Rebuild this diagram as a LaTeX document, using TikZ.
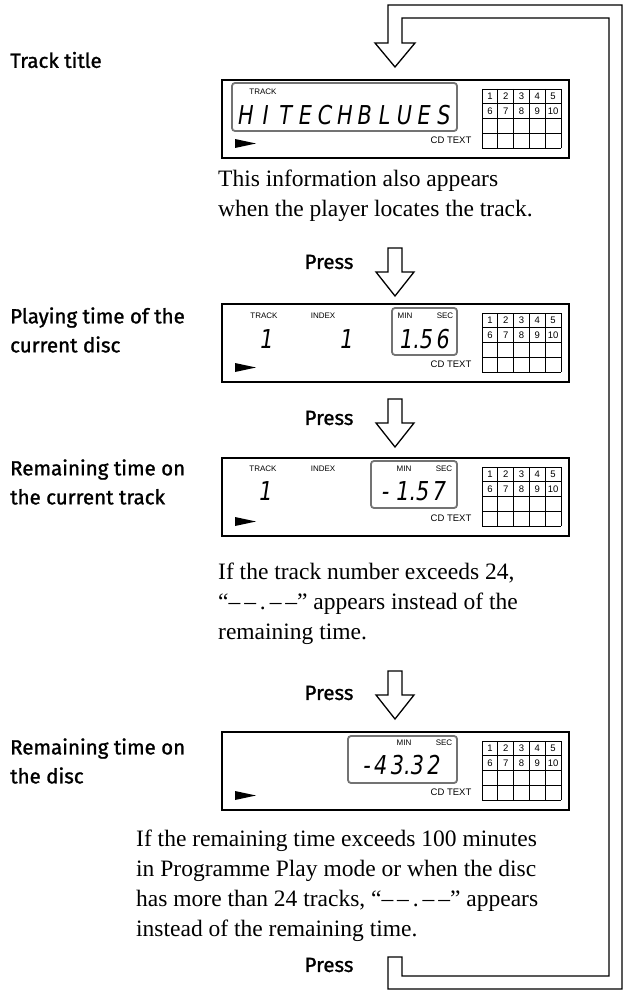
\documentclass[tikz,border=0pt]{standalone}
\usepackage{fontspec}
\setmainfont{Liberation Serif}
\setsansfont{Fira Sans}
\newfontfamily\lcdfont{Liberation Sans}
\newfontfamily\segfont{DejaVu Sans}
\newfontfamily\labfont{Fira Sans}[FakeBold=1.2]
\tikzset{
  frame/.style={draw=black,line width=1.6pt},
  gbox/.style={draw=black!55,line width=1.8pt,rounded corners=3pt},
  tiny/.style={font=\lcdfont\fontsize{8}{8}\selectfont,inner sep=0pt},
  cell/.style={font=\lcdfont\fontsize{9.5}{9.5}\selectfont,inner sep=0pt},
  seg/.style={font=\segfont\itshape\fontsize{26}{26}\selectfont,inner sep=0pt,xscale=0.8},
  lab/.style={font=\labfont\fontsize{20.5}{29}\selectfont,anchor=west,align=left,inner sep=0pt},
  press/.style={font=\labfont\fontsize{20.5}{24}\selectfont,inner sep=0pt},
  para/.style={font=\fontsize{23.5}{30}\selectfont,anchor=north west,align=left,inner sep=0pt},
  band/.style={draw=black,line width=1.3pt},
}
\newcommand\lcdpanel[2]{% top y, name
  \draw[frame] (222,#1) rectangle (569,#1+78);
  \node[name=#2] at (395.5,#1+39) {};
  \fill (235,#1+59) -- (256,#1+63.5) -- (235,#1+68) -- cycle;
  \node[tiny,font=\lcdfont\fontsize{9.5}{9.5}\selectfont] (#2cd) at (451,#1+60) {CD TEXT};
  \foreach \k in {0,...,5}{\draw[line width=0.7pt] (482+15.8*\k,#1+9) -- (482+15.8*\k,#1+68.2);}
  \foreach \k in {0,...,4}{\draw[line width=0.7pt] (482,#1+9+14.8*\k) -- (561,#1+9+14.8*\k);}
  \foreach \n [count=\i from 0] in {1,2,3,4,5}{
    \node[cell] at (489.9+15.8*\i,#1+16.4) {\n};}
  \foreach \n [count=\i from 0] in {6,7,8,9,10}{
    \node[cell] at (489.9+15.8*\i,#1+31.2) {\n};}
}
\newcommand\hollowdown[2]{% x, head y
  \draw[band,line join=miter] (#1-7,#2-24) -- (#1-7,#2) -- (#1-19,#2) -- (#1,#2+24) -- (#1+19,#2) -- (#1+7,#2) -- (#1+7,#2-24) -- cycle;
}
\begin{document}
\begin{tikzpicture}[x=1pt,y=-1pt]
\useasboundingbox (0,0) rectangle (623,992);
\fill[white] (0,0) rectangle (623,992);

% return loop
\draw[band,line join=miter] (402,957) -- (402,976) -- (609,976) -- (609,18) -- (402,18) -- (402,43) -- (415,43) -- (395,67) -- (375,43) -- (388,43) -- (388,5) -- (622,5) -- (622,989) -- (388,989) -- (388,957) -- cycle;
\coordinate (loopend) at (395,67);

% display 1
\lcdpanel{80}{d1}
\draw[gbox] (232,83) rectangle (457,131);
\node[tiny] at (263,92) {TRACK};
\foreach \c [count=\i from 0] in {H,I,T,E,C,H,B,L,U,E,S}{
  \node[seg] at (246+19.8*\i,115) {\c};}

% display 2
\lcdpanel{304}{d2}
\draw[gbox] (392,308) rectangle (457,355);
\node[tiny] at (264,316) {TRACK};
\node[tiny] at (323,316) {INDEX};
\node[tiny] at (405,316) {MIN};
\node[tiny] at (445,316) {SEC};
\node[seg] at (267,339) {1};
\node[seg] at (347,339) {1};
\node[seg] at (425,339) {1.5\,6};

% display 3
\lcdpanel{458}{d3}
\draw[gbox] (371,461) rectangle (457,508);
\node[tiny] at (263,469) {TRACK};
\node[tiny] at (323,469) {INDEX};
\node[tiny] at (404,469) {MIN};
\node[tiny] at (444,469) {SEC};
\node[seg] at (266,491) {1};
\node[seg] at (414,491) {-\,\,1.5\,7};

% display 4
\lcdpanel{732}{d4}
\draw[gbox] (348,736) rectangle (457,783);
\node[tiny] at (404,743) {MIN};
\node[tiny] at (444,743) {SEC};
\node[seg] at (402,765) {-\,4\,3.3\,2};

% left labels
\node[lab] (l1) at (10,60) {Track title};
\node[lab] (l2) at (10,330) {Playing time of the\\current disc};
\node[lab] (l3) at (10,482) {Remaining time on\\the current track};
\node[lab] (l4) at (10,761) {Remaining time on\\the disc};

% paragraphs
\node[para] (p1) at (218,170) {This information also appears\\when the player locates the track.};
\node[para] (p2) at (218,563) {If the track number exceeds 24,\\“–\,–\,.\,–\,–” appears instead of the\\remaining time.};
\node[para] (p3) at (136,830) {If the remaining time exceeds 100 minutes\\in Programme Play mode or when the disc\\has more than 24 tracks, “–\,–\,.\,–\,–” appears\\instead of the remaining time.};

% press arrows
\hollowdown{395}{272}
\node[press] (pr1) at (329,262) {Press};
\hollowdown{395}{423}
\node[press] (pr2) at (329,418) {Press};
\hollowdown{395}{695}
\node[press] (pr3) at (329,693) {Press};
\node[press] (pr4) at (329,965) {Press};
\end{tikzpicture}
\end{document}
